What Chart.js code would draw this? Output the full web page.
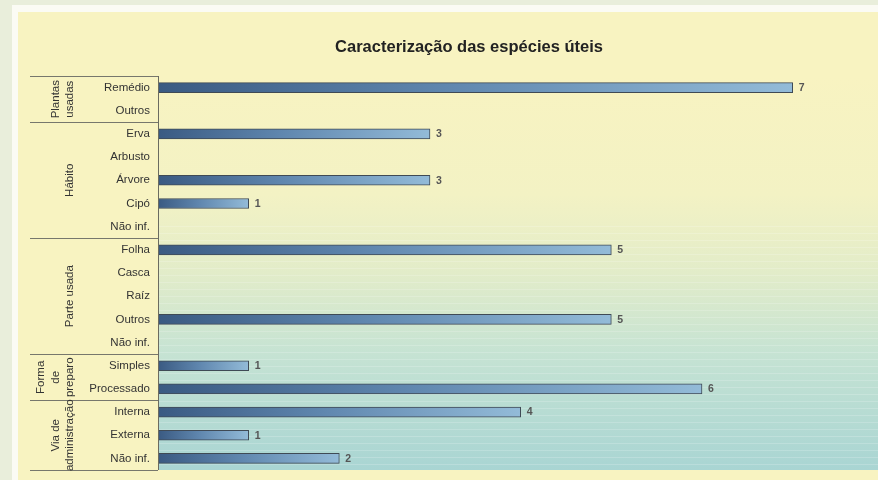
<!DOCTYPE html>
<html>
<head>
<meta charset="utf-8">
<script src="https://cdn.jsdelivr.net/npm/chart.js@4"></script>
<style>
  html, body { margin: 0; padding: 0; background: #e9eedb; }
  #wrap { width: 878px; height: 480px; position: relative; }
</style>
</head>
<body>
<div id="wrap"><canvas id="chart" width="878" height="480"></canvas></div>
<script>
// =====================
// Data
// =====================
const categories = ['Remédio', 'Outros',
  'Erva', 'Arbusto', 'Árvore', 'Cipó', 'Não inf.',
  'Folha', 'Casca', 'Raíz', 'Outros', 'Não inf.',
  'Simples', 'Processado',
  'Interna', 'Externa', 'Não inf.'];
const counts = [7, null, 3, null, 3, 1, null, 5, null, null, 5, null, 1, 6, 4, 1, 2];
const groupNames = [['Plantas', 'usadas'], ['Hábito'], ['Parte usada'], ['Forma', 'de', 'preparo'], ['Via de', 'administração']];
const groupSizes = [2, 5, 5, 2, 3];
const chartTitle = 'Caracterização das espécies úteis';

// =====================
// Background, labels, groups
// =====================
const panelPlugin = {
  id: 'panel',
  beforeDraw(chart) {
    const c = chart.ctx;
    const a = chart.chartArea;
    c.save();
    c.fillStyle = '#e9eedb';
    c.fillRect(0, 0, chart.width, chart.height);
    c.fillStyle = '#fbfbf4';
    c.fillRect(12, 5, chart.width - 12, chart.height - 5);
    c.fillStyle = '#f8f3c1';
    c.fillRect(18, 12, chart.width - 18, chart.height - 12);
    // plot gradient
    const g = c.createLinearGradient(0, a.top, 0, a.bottom);
    g.addColorStop(0, '#f8f3c1');
    g.addColorStop(0.3, '#f3f2c4');
    g.addColorStop(0.5, '#e2ecc9');
    g.addColorStop(0.7, '#c6e3d3');
    g.addColorStop(1, '#a9d5d3');
    c.fillStyle = g;
    c.fillRect(a.left, a.top, chart.width - a.left, a.bottom - a.top);
    // faint stripes
    c.strokeStyle = 'rgba(255,255,255,0.18)';
    c.lineWidth = 1;
    for (let y = a.top + 150; y < a.bottom; y += 7) {
      c.beginPath();
      c.moveTo(a.left, y + 0.5);
      c.lineTo(chart.width, y + 0.5);
      c.stroke();
    }
    c.restore();
  },
  afterDraw(chart) {
    const c = chart.ctx;
    const a = chart.chartArea;
    const y = chart.scales.y;
    const step = (a.bottom - a.top) / categories.length;
    c.save();
    // title
    c.fillStyle = '#222';
    c.font = 'bold 16.5px "Liberation Sans", Arial, sans-serif';
    c.textAlign = 'center';
    c.textBaseline = 'middle';
    c.fillText(chartTitle, 469, 47);
    // axis line
    c.strokeStyle = '#6b6b60';
    c.lineWidth = 1;
    c.beginPath();
    c.moveTo(a.left + 0.5, a.top);
    c.lineTo(a.left + 0.5, a.bottom);
    c.stroke();
    // category labels
    c.fillStyle = '#333';
    c.font = '11.5px "Liberation Sans", Arial, sans-serif';
    c.textAlign = 'right';
    categories.forEach((lab, i) => {
      c.fillText(lab, a.left - 8, y.getPixelForValue(i));
    });
    // group separators and names
    let idx = 0;
    const bounds = [a.top];
    groupSizes.forEach(n => { idx += n; bounds.push(a.top + idx * step); });
    c.strokeStyle = '#77776c';
    bounds.forEach(b => {
      const yy = Math.round(b) + 0.5;
      c.beginPath();
      c.moveTo(30, yy);
      c.lineTo(a.left, yy);
      c.stroke();
    });
    c.textAlign = 'center';
    groupNames.forEach((lines, gi) => {
      const cy = (bounds[gi] + bounds[gi + 1]) / 2;
      lines.forEach((t, li) => {
        const x = 70 - (lines.length - 1 - li) * 14.5;
        c.save();
        c.translate(x, cy);
        c.rotate(-Math.PI / 2);
        c.fillText(t, 0, 0);
        c.restore();
      });
    });
    // value labels
    c.fillStyle = '#555';
    c.font = 'bold 10.5px "Liberation Sans", Arial, sans-serif';
    c.textAlign = 'left';
    const meta = chart.getDatasetMeta(0);
    meta.data.forEach((bar, i) => {
      if (counts[i] == null) return;
      c.fillText(String(counts[i]), bar.x + 6, bar.y + 0.5);
    });
    c.restore();
  }
};

function barFill(context) {
  const chart = context.chart;
  if (!chart.chartArea || !chart.scales.x) return '#6f93b8';
  const v = context.raw || 0;
  const x0 = chart.scales.x.getPixelForValue(0);
  const x1 = chart.scales.x.getPixelForValue(v);
  const g = chart.ctx.createLinearGradient(x0, 0, Math.max(x1, x0 + 1), 0);
  g.addColorStop(0, '#3a5a82');
  g.addColorStop(0.45, '#5f86ae');
  g.addColorStop(1, '#93bbd8');
  return g;
}

new Chart(document.getElementById('chart'), {
  type: 'bar',
  data: {
    labels: categories,
    datasets: [{
      data: counts,
      backgroundColor: barFill,
      borderColor: '#3f4a55',
      borderWidth: 1,
      barThickness: 10,
      borderSkipped: false
    }]
  },
  options: {
    indexAxis: 'y',
    responsive: false,
    animation: false,
    layout: { padding: { left: 158, right: 40, top: 76, bottom: 10 } },
    plugins: {
      legend: { display: false },
      title: { display: false },
      tooltip: { enabled: false }
    },
    scales: {
      x: { display: false, min: 0, max: 7.5 },
      y: { display: false }
    }
  },
  plugins: [panelPlugin]
});
</script>
</body>
</html>
